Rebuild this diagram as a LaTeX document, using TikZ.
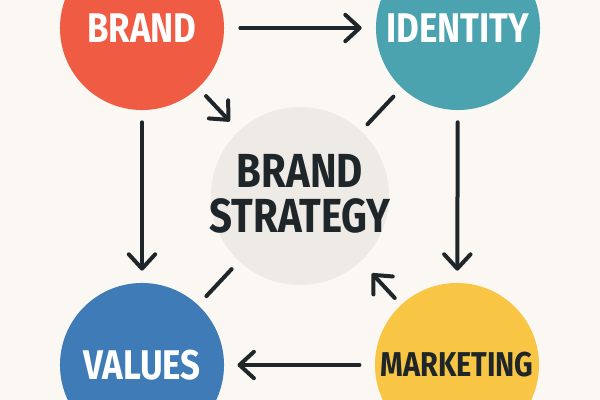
\documentclass[tikz,border=0pt]{standalone}
\usepackage{fontspec}
\usetikzlibrary{arrows.meta}
\newfontfamily\labelfont[FakeStretch=0.84]{Fira Sans}
\definecolor{bgcream}{HTML}{FBF8F4}
\definecolor{brandred}{HTML}{EF5B43}
\definecolor{identityteal}{HTML}{4BA3AF}
\definecolor{valuesblue}{HTML}{3F7BB6}
\definecolor{marketingyellow}{HTML}{F8C544}
\definecolor{strategygrey}{HTML}{EEEBE7}
\definecolor{inkdark}{HTML}{1F2629}
\tikzset{
  hub/.style={circle, minimum size=4.1cm, inner sep=0pt, text=white,
    font=\labelfont\bfseries\fontsize{29.5}{30}\selectfont},
  link/.style={line width=0.1cm, color=inkdark, line cap=round,
    shorten <=0.3cm, shorten >=0.3cm},
  flow/.style={link, -{Straight Barb[length=0.36cm,width=0.66cm,round]}},
}

\begin{document}
\begin{tikzpicture}[x=0.025cm, y=-0.025cm]
			%%%%% START %%%%%
			
			\fill[bgcream] (0, 0) rectangle (600, 400);
			\useasboundingbox (0, 0) rectangle (600, 400);
			\clip (0, 0) rectangle (600, 400);
			
			\node[hub, fill=brandred] (brand) at (142, 28) {BRAND};
			\node[hub, fill=identityteal] (identity) at (458, 28) {IDENTITY};
			\node[hub, fill=valuesblue] (values) at (142, 365) {VALUES};
			\node[hub, fill=marketingyellow, text=inkdark,
				font=\labelfont\bfseries\fontsize{24.5}{25}\selectfont] (marketing) at (457, 365) {MARKETING};
			
			\node[circle, fill=strategygrey, minimum size=4.45cm, inner sep=0pt] (strategy) at (300, 196) {};
			\node[text=inkdark, align=center, inner sep=0pt,
				font=\labelfont\bfseries\fontsize{34}{32}\selectfont] (strategytext) at (300, 194) {BRAND\\STRATEGY};
			
			\draw[flow, shorten <=0.4cm, shorten >=0.35cm] (brand) -- (identity);
			\draw[flow] (brand) -- (values);
			\draw[flow] (identity) -- (marketing);
			\draw[flow, shorten <=0.38cm, shorten >=0.33cm] (marketing) -- (values);
			
			\draw[flow, shorten <=0.28cm, shorten >=0.33cm] (brand) -- (strategy);
			\draw[link, shorten >=0.23cm] (identity) -- (strategy);
			\draw[link, shorten >=0.27cm] (values) -- (strategy);
			\draw[flow, shorten <=0.23cm, shorten >=0.41cm] (marketing) -- (strategy);
			
			%%%%% END %%%%%
		\end{tikzpicture}
\end{document}
